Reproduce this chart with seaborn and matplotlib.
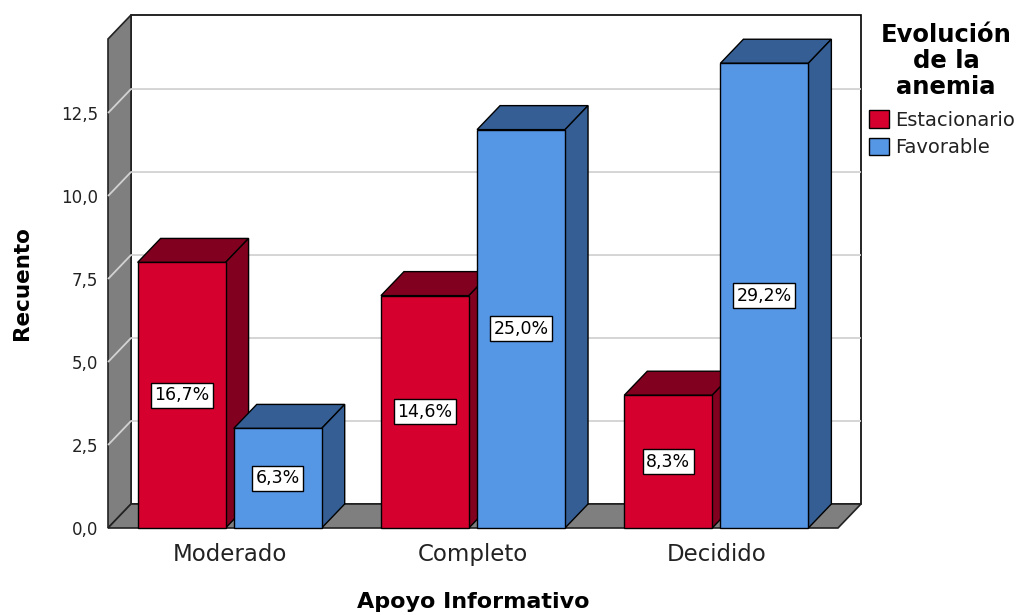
import matplotlib
matplotlib.use("Agg")
import matplotlib.pyplot as plt
from matplotlib.patches import Polygon, Patch
import pandas as pd
import seaborn as sns
from decimal import Decimal, ROUND_HALF_UP

# Counts of cases by level of informative support and anaemia evolution
apoyo = ["Moderado", "Completo", "Decidido"]
evolucion = ["Estacionario", "Favorable"]
estacionario = [8, 7, 4]
favorable = [3, 12, 14]
y_ticks = [0.0, 2.5, 5.0, 7.5, 10.0, 12.5]

front_colors = {"Estacionario": "#D6002F", "Favorable": "#5596E5"}
shade_colors = {"Estacionario": "#82001F", "Favorable": "#345E94"}
wall_color = "#7F7F7F"
grid_color = "#D2D2D2"

df = pd.DataFrame({
    "Apoyo Informativo": apoyo * 2,
    "Evolución": [evolucion[0]] * 3 + [evolucion[1]] * 3,
    "Recuento": estacionario + favorable,
})
total = int(df["Recuento"].sum())


def pct_label(count):
    value = Decimal(int(count) * 100) / Decimal(total)
    value = value.quantize(Decimal("0.1"), rounding=ROUND_HALF_UP)
    return f"{value}%".replace(".", ",")


sns.set_style("white")
plt.rcParams["font.family"] = ["DejaVu Sans"]

W, H = 1025, 615
fig = plt.figure(figsize=(W / 100, H / 100), dpi=100)
# front plane of the 3-D box in pixels
left_px, right_px, base_px, top_px = 108, 838, 528, 39
ax = fig.add_axes([left_px / W, (H - base_px) / H,
                   (right_px - left_px) / W, (base_px - top_px) / H])

sns.barplot(data=df, x="Apoyo Informativo", y="Recuento", hue="Evolución",
            hue_order=evolucion, order=apoyo, palette=front_colors,
            saturation=1, width=0.79, gap=0.085, edgecolor="black",
            linewidth=1.0, legend=False, ax=ax)

x0, x1 = -0.5, 2.5
y_top = 14.73
ax.set_xlim(x0, x1)
ax.set_ylim(0, y_top)

# oblique depth offset (pixels) converted to data units
depth_x_px, depth_y_px = 23, 24
dx = depth_x_px * (x1 - x0) / (right_px - left_px)
dy = depth_y_px * y_top / (base_px - top_px)

# back wall, left wall and floor of the box
ax.add_patch(Polygon([(x0 + dx, dy), (x1 + dx, dy), (x1 + dx, y_top + dy),
                      (x0 + dx, y_top + dy)], closed=True, fc="white",
                     ec="black", lw=1.2, clip_on=False, zorder=0.5))
ax.add_patch(Polygon([(x0, 0), (x0 + dx, dy), (x0 + dx, y_top + dy),
                      (x0, y_top)], closed=True, fc=wall_color,
                     ec="#222222", lw=1.2, clip_on=False, zorder=1))
for v in y_ticks[1:]:
    ax.plot([x0, x0 + dx, x1 + dx], [v, v + dy, v + dy], color=grid_color,
            lw=1.3, clip_on=False, zorder=1.2, solid_capstyle="butt")
ax.add_patch(Polygon([(x0, 0), (x1, 0), (x1 + dx, dy), (x0 + dx, dy)],
                     closed=True, fc=wall_color, ec="#222222", lw=1.2,
                     clip_on=False, zorder=1.5))

# extrude each bar: top and side faces, drawn left to right
bars = []
for level, container in zip(evolucion, ax.containers):
    for bar in container:
        bars.append((bar.get_x(), bar, level))
bars.sort(key=lambda item: item[0])

for i, (_, bar, level) in enumerate(bars):
    x, w, h = bar.get_x(), bar.get_width(), bar.get_height()
    base_z = 3 + 3 * i
    shade = shade_colors[level]
    ax.add_patch(Polygon([(x, h), (x + w, h), (x + w + dx, h + dy),
                          (x + dx, h + dy)], closed=True, fc=shade,
                         ec="black", lw=1.0, clip_on=False, zorder=base_z))
    ax.add_patch(Polygon([(x + w, 0), (x + w + dx, dy), (x + w + dx, h + dy),
                          (x + w, h)], closed=True, fc=shade, ec="black",
                         lw=1.0, clip_on=False, zorder=base_z))
    bar.set_zorder(base_z + 1)
    bar.set_clip_on(False)
    ax.text(x + w / 2, h / 2, pct_label(round(h)), ha="center",
            va="center", fontsize=12.5, color="black", zorder=base_z + 2,
            bbox=dict(boxstyle="square,pad=0.2", fc="white", ec="black",
                      lw=1.0))

ax.set_yticks(y_ticks)
ax.set_yticklabels([f"{v:.1f}".replace(".", ",") for v in y_ticks])
ax.tick_params(axis="y", length=0, pad=7, labelsize=12, labelcolor="#222222")
ax.tick_params(axis="x", length=0, pad=11, labelsize=16.5, labelcolor="#222222")
for s in ax.spines.values():
    s.set_visible(False)
ax.set_facecolor("none")
ax.grid(False)

ax.set_ylabel("Recuento", fontsize=15.5, fontweight="bold", color="black")
ax.yaxis.set_label_coords((22 - left_px) / (right_px - left_px), 0.5)
ax.yaxis.label.set_va("center")
ax.set_xlabel("Apoyo Informativo", fontsize=16, fontweight="bold",
              color="black")
ax.xaxis.set_label_coords(0.5, (base_px - 602) / (base_px - top_px))
ax.xaxis.label.set_va("center")

# legend: centred bold heading above the colour keys
fig.text(946 / W, 1 - 23 / H, "Evolución\nde la\nanemia", ha="center",
         va="top", fontsize=17.5, fontweight="bold", color="black",
         linespacing=1.1, multialignment="center")
handles = [Patch(facecolor=front_colors[k], edgecolor="black", lw=1.0,
                 label=k) for k in evolucion]
leg = fig.legend(handles=handles, loc="upper left",
                 bbox_to_anchor=(869 / W, 1 - 110 / H), frameon=False,
                 fontsize=14, handlelength=1.03, handleheight=1.03,
                 handletextpad=0.3, labelspacing=0.42, borderpad=0,
                 borderaxespad=0)
for t in leg.get_texts():
    t.set_color("#222222")

fig.savefig("out.png", dpi=100)
